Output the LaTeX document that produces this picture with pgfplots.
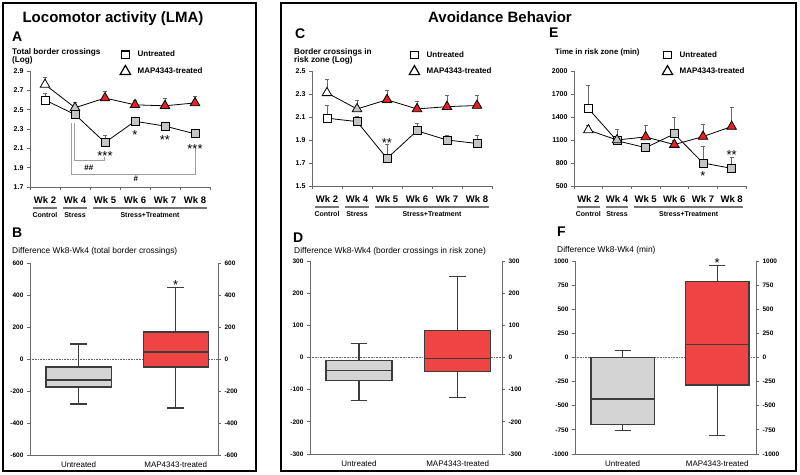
\documentclass[border=0pt]{standalone}
\usepackage{pgfplots}
\pgfplotsset{compat=1.18}
\usepgfplotslibrary{statistics}
\usepackage{fontspec}
\setmainfont{Liberation Sans}

\definecolor{mred}{RGB}{230,32,38}
\definecolor{bred}{RGB}{239,68,68}
\definecolor{mgray}{RGB}{196,196,196}
\definecolor{bgray}{RGB}{212,212,212}
\definecolor{axgray}{RGB}{105,105,105}
\definecolor{boxline}{RGB}{60,60,60}
\definecolor{ulgray}{RGB}{115,115,115}

\newcommand\fs[1]{\fontsize{#1}{#1}\selectfont}

\pgfplotsset{
  base/.style={scale only axis, clip=false, anchor=south west,
    axis line style={axgray, line width=1pt},
    every tick/.style={axgray, line width=0.8pt},
    tick align=outside, major tick length=3pt,
    yticklabel style={font=\fs{7}\bfseries},
    /pgf/number format/assume math mode=true,
    /pgf/number format/1000 sep={}},
  linepanel/.style={base, xmin=0.5, xmax=6.5,
    xtick={0.5,1.5,2.5,3.5,4.5,5.5,6.5}, xticklabels={},
    axis x line*=bottom, axis y line*=left,
    legend cell align=left,
    legend image code/.code={\draw[#1] plot coordinates {(5pt,0pt)};},
    legend style={draw=none, fill=none, anchor=north west, inner sep=0pt,
      row sep=5pt, font=\fs{8}\bfseries,
      /tikz/every odd column/.append style={column sep=5pt}}},
  boxpanel/.style={base, axis x line*=bottom, axis y line*=left,
    xtick={1,2}, xticklabels={Untreated,MAP4343-treated},
    xticklabel style={font=\fs{8}}, xtick style={draw=none},
    yticklabel style={font=\fs{6.5}\bfseries},
    boxplot/draw direction=y},
  rightax/.style={base, axis y line*=right, axis x line=none, xmin=0, xmax=1,
    yticklabel style={font=\fs{6.5}\bfseries}},
  dline/.style={black, line width=0.8pt, mark=none,
    error bars/y dir=plus, error bars/y explicit,
    error bars/error bar style={axgray, line width=0.6pt}},
  sq/.style={only marks, mark=square*, mark size=4pt,
    mark options={fill=#1, draw=black, line width=0.8pt}},
  tr/.style={only marks, mark=triangle*, mark size=5.5pt,
    mark options={fill=#1, draw=black, line width=0.8pt}},
  legsq/.style={black, mark=square*, mark size=3.8pt, mark options={fill=white, line width=1.2pt}},
  legtr/.style={black, mark=triangle*, mark size=6pt, mark options={fill=white, line width=1.2pt}},
  bx/.style={draw=boxline, line width=1.2pt, fill=#1},
}

\tikzset{
  wk/.style={font=\fs{9.5}\bfseries, inner sep=0pt},
  grp/.style={font=\fs{7}\bfseries, inner sep=0pt},
  ul/.style={ulgray, line width=2pt},
  star/.style={font=\fs{13}, inner sep=0pt, yshift=-3pt},
  brk/.style={gray!75, line width=1pt},
}

\newcommand\wklabels[1]{%
  \node[wk] at ([yshift=-13pt]axis cs:1,#1) {Wk 2};
  \node[wk] at ([yshift=-13pt]axis cs:2,#1) {Wk 4};
  \node[wk] at ([yshift=-13pt]axis cs:3,#1) {Wk 5};
  \node[wk] at ([yshift=-13pt]axis cs:4,#1) {Wk 6};
  \node[wk] at ([yshift=-13pt]axis cs:5,#1) {Wk 7};
  \node[wk] at ([yshift=-13pt]axis cs:6,#1) {Wk 8};
  \draw[ul] ([yshift=-20.5pt]axis cs:0.6,#1) -- ([yshift=-20.5pt]axis cs:1.4,#1);
  \draw[ul] ([yshift=-20.5pt]axis cs:1.6,#1) -- ([yshift=-20.5pt]axis cs:2.4,#1);
  \draw[ul] ([yshift=-20.5pt]axis cs:2.6,#1) -- ([yshift=-20.5pt]axis cs:6.4,#1);
  \node[grp] at ([yshift=-28pt]axis cs:1,#1) {Control};
  \node[grp] at ([yshift=-28pt]axis cs:2,#1) {Stress};
  \node[grp] at ([yshift=-28pt]axis cs:4.5,#1) {Stress+Treatment};
}

\begin{document}
\begin{tikzpicture}
\useasboundingbox (0pt,0pt) rectangle (800pt,-474pt);

% ---------- A
\begin{axis}[linepanel, at={(30pt,-187pt)}, width=180pt, height=116pt,
  ymin=1.7, ymax=2.9, ytick={1.7,1.9,2.1,2.3,2.5,2.7,2.9},
  y tick label style={/pgf/number format/fixed, /pgf/number format/fixed zerofill, /pgf/number format/precision=1},
  legend style={at={(0.5,1.19)}}]
\addlegendimage{legsq}
\addlegendimage{legtr}
\addplot[dline] table[x=x, y=y, y error=e] {
x y e
1 2.76 0.08
2 2.52 0.06
3 2.62 0.07
4 2.55 0.05
5 2.54 0.08
6 2.57 0.07
};
\addplot[dline] table[x=x, y=y, y error=e] {
x y e
1 2.60 0.07
2 2.45 0.04
3 2.16 0.08
4 2.38 0.04
5 2.33 0.02
6 2.25 0.02
};
\draw[brk] (axis cs:2.0,2.36) -- (axis cs:2.0,1.97) -- (axis cs:3.0,1.97) -- (axis cs:3.0,2.01);
\draw[brk] (axis cs:1.87,2.36) -- (axis cs:1.87,1.834) -- (axis cs:6.03,1.834) -- (axis cs:6.03,2.10);
\addplot[sq=white] coordinates {(1,2.60)};
\addplot[sq=mgray] coordinates {(2,2.45) (3,2.16) (4,2.38) (5,2.33) (6,2.25)};
\addplot[tr=white] coordinates {(1,2.76)};
\addplot[tr=mgray] coordinates {(2,2.52)};
\addplot[tr=mred] coordinates {(3,2.62) (4,2.55) (5,2.54) (6,2.57)};
\node[star] at (axis cs:3,2.05) {***};
\node[star] at (axis cs:4,2.27) {*};
\node[star] at (axis cs:5,2.22) {**};
\node[star] at (axis cs:6,2.12) {***};
\node[font=\fs{8}\bfseries] at (axis cs:2.46,1.896) {\#\#};
\node[font=\fs{8}\bfseries] at (axis cs:4.03,1.78) {\#};
\wklabels{1.7}
\legend{Untreated, MAP4343-treated}
\end{axis}

% ---------- C
\begin{axis}[linepanel, at={(312pt,-186pt)}, width=180pt, height=115pt,
  ymin=1.5, ymax=2.5, ytick={1.5,1.7,1.9,2.1,2.3,2.5},
  y tick label style={/pgf/number format/fixed, /pgf/number format/fixed zerofill, /pgf/number format/precision=1},
  legend style={at={(0.539,1.19)}}]
\addlegendimage{legsq}
\addlegendimage{legtr}
\addplot[dline] table[x=x, y=y, y error=e] {
x y e
1 2.31 0.12
2 2.17 0.08
3 2.25 0.08
4 2.17 0.07
5 2.19 0.10
6 2.20 0.09
};
\addplot[dline] table[x=x, y=y, y error=e] {
x y e
1 2.09 0.11
2 2.06 0.05
3 1.74 0.12
4 1.98 0.07
5 1.90 0.04
6 1.87 0.07
};
\addplot[sq=white] coordinates {(1,2.09)};
\addplot[sq=mgray] coordinates {(2,2.06) (3,1.74) (4,1.98) (5,1.90) (6,1.87)};
\addplot[tr=white] coordinates {(1,2.31)};
\addplot[tr=mgray] coordinates {(2,2.17)};
\addplot[tr=mred] coordinates {(3,2.25) (4,2.17) (5,2.19) (6,2.20)};
\node[star] at (axis cs:3,1.90) {**};
\wklabels{1.5}
\legend{Untreated, MAP4343-treated}
\end{axis}

% ---------- E
\begin{axis}[linepanel, at={(574pt,-186pt)}, width=172pt, height=115pt,
  ymin=500, ymax=2000, ytick={500,800,1100,1400,1700,2000},
  legend style={at={(0.512,1.19)}}]
\addlegendimage{legsq}
\addlegendimage{legtr}
\addplot[dline] table[x=x, y=y, y error=e] {
x y e
1 1230 60
2 1100 140
3 1140 150
4 1040 60
5 1145 160
6 1275 250
};
\addplot[dline] table[x=x, y=y, y error=e] {
x y e
1 1510 300
2 1090 60
3 1000 60
4 1180 220
5 800 220
6 730 145
};
\addplot[sq=white] coordinates {(1,1510)};
\addplot[sq=mgray] coordinates {(2,1090) (3,1000) (4,1180) (5,800) (6,730)};
\addplot[tr=white] coordinates {(1,1230)};
\addplot[tr=mgray] coordinates {(2,1100)};
\addplot[tr=mred] coordinates {(3,1140) (4,1040) (5,1145) (6,1275)};
\node[star] at (axis cs:5,670) {*};
\node[star] at (axis cs:6,943) {**};
\wklabels{500}
\legend{Untreated, MAP4343-treated}
\end{axis}

% ---------- B
\begin{axis}[boxpanel, at={(30pt,-455pt)}, width=188pt, height=192pt,
  xmin=0.5, xmax=2.435, ymin=-600, ymax=600, ytick={-600,-400,-200,0,200,400,600}]
\addplot[densely dotted, axgray, line width=0.6pt] coordinates {(0.5,0) (2.435,0)};
\addplot[bx=bgray, boxplot prepared={draw position=1, lower whisker=-281, lower quartile=-175,
  median=-131, upper quartile=-50, upper whisker=94, box extend=0.67, whisker extend=0.17}] coordinates {};
\addplot[bx=bred, boxplot prepared={draw position=2, lower whisker=-306, lower quartile=-50,
  median=44, upper quartile=169, upper whisker=445, box extend=0.67, whisker extend=0.17}] coordinates {};
\node[star] at (axis cs:2,481) {*};
\end{axis}
\begin{axis}[rightax, at={(30pt,-455pt)}, width=188pt, height=192pt,
  ymin=-600, ymax=600, ytick={-600,-400,-200,0,200,400,600}]
\end{axis}

% ---------- D
\begin{axis}[boxpanel, at={(310pt,-454pt)}, width=192pt, height=193pt,
  xmin=0.503, xmax=2.45, ymin=-300, ymax=300, ytick={-300,-200,-100,0,100,200,300}]
\addplot[densely dotted, axgray, line width=0.6pt] coordinates {(0.503,0) (2.45,0)};
\addplot[bx=bgray, boxplot prepared={draw position=1, lower whisker=-134, lower quartile=-72,
  median=-40, upper quartile=-10, upper whisker=44, box extend=0.67, whisker extend=0.17}] coordinates {};
\addplot[bx=bred, boxplot prepared={draw position=2, lower whisker=-124, lower quartile=-43,
  median=-4, upper quartile=85, upper whisker=252, box extend=0.67, whisker extend=0.17}] coordinates {};
\end{axis}
\begin{axis}[rightax, at={(310pt,-454pt)}, width=192pt, height=193pt,
  ymin=-300, ymax=300, ytick={-300,-200,-100,0,100,200,300}]
\end{axis}

% ---------- F
\begin{axis}[boxpanel, at={(575pt,-454pt)}, width=181pt, height=193pt,
  xmin=0.497, xmax=2.41, ymin=-1000, ymax=1000,
  ytick={-1000,-750,-500,-250,0,250,500,750,1000}]
\addplot[densely dotted, axgray, line width=0.6pt] coordinates {(0.497,0) (2.41,0)};
\addplot[bx=bgray, boxplot prepared={draw position=1, lower whisker=-760, lower quartile=-692,
  median=-430, upper quartile=3, upper whisker=72, box extend=0.67, whisker extend=0.17}] coordinates {};
\addplot[bx=bred, boxplot prepared={draw position=2, lower whisker=-810, lower quartile=-285,
  median=135, upper quartile=790, upper whisker=950, box extend=0.67, whisker extend=0.17}] coordinates {};
\node[star] at (axis cs:2,1012) {*};
\end{axis}
\begin{axis}[rightax, at={(575pt,-454pt)}, width=181pt, height=193pt,
  ymin=-1000, ymax=1000, ytick={-1000,-750,-500,-250,0,250,500,750,1000}]
\end{axis}

% ---------- frames and text
\draw[line width=2pt] (3pt,-3pt) rectangle (256pt,-471pt);
\draw[line width=2pt] (281pt,-3pt) rectangle (796pt,-471pt);
\node[font=\fs{15}\bfseries, anchor=base, inner sep=0pt] at (113pt,-22pt) {Locomotor activity (LMA)};
\node[font=\fs{15}\bfseries, anchor=base, inner sep=0pt] at (500pt,-22pt) {Avoidance Behavior};
\node[font=\fs{14}\bfseries, anchor=west, inner sep=0pt] at (12pt,-37pt) {A};
\node[font=\fs{14}\bfseries, anchor=west, inner sep=0pt] at (295pt,-33.5pt) {C};
\node[font=\fs{14}\bfseries, anchor=west, inner sep=0pt] at (549pt,-33pt) {E};
\node[font=\fs{14}\bfseries, anchor=west, inner sep=0pt] at (12pt,-233pt) {B};
\node[font=\fs{14}\bfseries, anchor=west, inner sep=0pt] at (293pt,-237.5pt) {D};
\node[font=\fs{14}\bfseries, anchor=west, inner sep=0pt] at (557pt,-231.5pt) {F};
\node[font=\fs{8.2}\bfseries, anchor=base west, inner sep=0pt] at (12pt,-54.5pt) {Total border crossings};
\node[font=\fs{8.2}\bfseries, anchor=base west, inner sep=0pt] at (12pt,-62.5pt) {(Log)};
\node[font=\fs{8.2}\bfseries, anchor=base west, inner sep=0pt] at (294pt,-54.5pt) {Border crossings in};
\node[font=\fs{8.2}\bfseries, anchor=base west, inner sep=0pt] at (294pt,-62.5pt) {risk zone (Log)};
\node[font=\fs{7.8}\bfseries, anchor=base west, inner sep=0pt] at (555pt,-54.5pt) {Time in risk zone (min)};
\node[font=\fs{8.4}, anchor=base west, inner sep=0pt] at (12pt,-253pt) {Difference Wk8-Wk4 (total border crossings)};
\node[font=\fs{8.4}, anchor=base west, inner sep=0pt] at (294pt,-253pt) {Difference Wk8-Wk4 (border crossings in risk zone)};
\node[font=\fs{8.4}, anchor=base west, inner sep=0pt] at (557pt,-252pt) {Difference Wk8-Wk4 (min)};
\end{tikzpicture}
\end{document}
